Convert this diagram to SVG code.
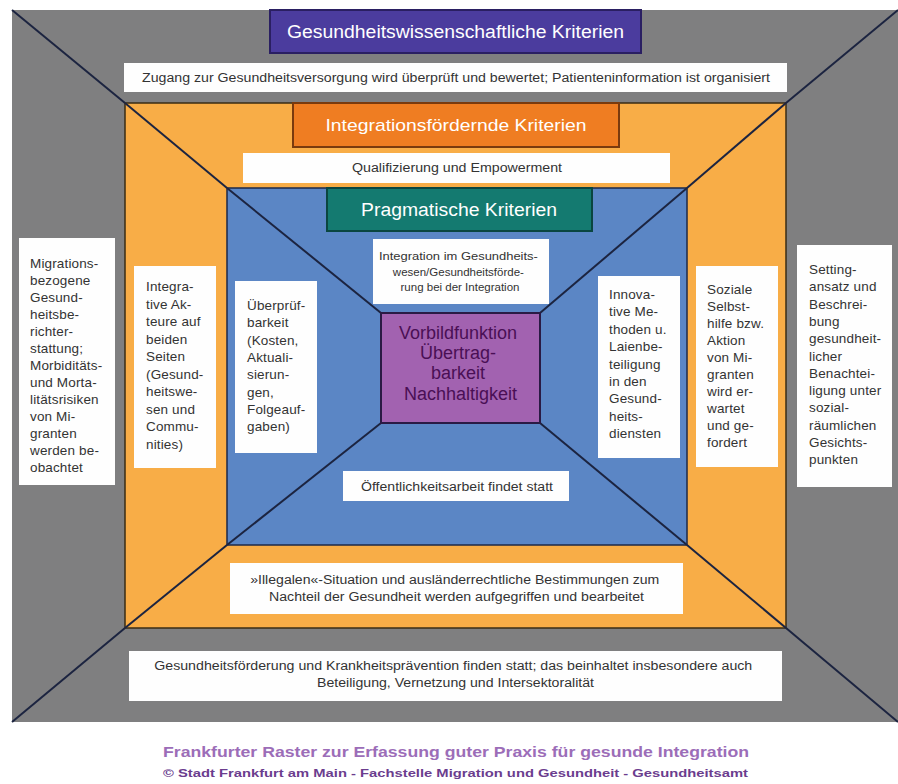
<svg xmlns="http://www.w3.org/2000/svg" width="898" height="784" viewBox="0 0 898 784">
<style>
.t{font-family:"Liberation Sans",Arial,sans-serif;fill:#333}
.side{font-size:13.5px;letter-spacing:0.15px}
.wb{fill:#fefefe}
.hd{font-family:"Liberation Sans",Arial,sans-serif;fill:#fff;text-anchor:middle}
.ln{stroke:#1c2440;stroke-width:2;fill:none}
.c{text-anchor:middle}
</style>
<rect width="898" height="784" fill="#fff"/>
<g id="ring-gray">
<rect x="12" y="10" width="886" height="712" fill="#7f7f80"/>
</g>
<g id="ring-orange">
<rect x="125" y="103" width="661" height="525" fill="#f8ad47" stroke="#3a2c14" stroke-width="1.5"/>
</g>
<g id="ring-blue">
<rect x="227" y="188" width="460" height="357" fill="#5b86c5" stroke="#1c2848" stroke-width="1.5"/>
</g>
<g id="connectors">
<line class="ln" x1="12" y1="10" x2="125" y2="103"/>
<line class="ln" x1="898" y1="10" x2="786" y2="103"/>
<line class="ln" x1="12" y1="722" x2="125" y2="628"/>
<line class="ln" x1="898" y1="722" x2="786" y2="628"/>
<line class="ln" x1="125" y1="103" x2="227" y2="188"/>
<line class="ln" x1="786" y1="103" x2="687" y2="188"/>
<line class="ln" x1="125" y1="628" x2="227" y2="545"/>
<line class="ln" x1="786" y1="628" x2="687" y2="545"/>
<line class="ln" x1="227" y1="188" x2="381" y2="313"/>
<line class="ln" x1="687" y1="188" x2="540" y2="313"/>
<line class="ln" x1="227" y1="545" x2="381" y2="423"/>
<line class="ln" x1="687" y1="545" x2="540" y2="423"/>
</g>
<g id="title-gesundheitswiss">
<rect x="270" y="10" width="371" height="43" fill="#4b3c9e" stroke="#2a1f62" stroke-width="2"/>
<text class="hd" x="455.5" y="38" font-size="18" textLength="337" lengthAdjust="spacingAndGlyphs">Gesundheitswissenschaftliche Kriterien</text>
</g>
<g id="box-zugang">
<rect class="wb" x="124" y="63" width="663" height="29"/>
<text class="t c" x="456" y="82" font-size="12.5" textLength="628" lengthAdjust="spacingAndGlyphs">Zugang zur Gesundheitsversorgung wird überprüft und bewertet; Patienteninformation ist organisiert</text>
</g>
<g id="title-integration">
<rect x="293" y="103" width="326" height="44" fill="#ef7d22" stroke="#7a3a0e" stroke-width="2"/>
<text class="hd" x="456" y="131" font-size="17" textLength="261" lengthAdjust="spacingAndGlyphs">Integrationsfördernde Kriterien</text>
</g>
<g id="box-qualifizierung">
<rect class="wb" x="243" y="153" width="427" height="30"/>
<text class="t c" x="457" y="172" font-size="12" textLength="210" lengthAdjust="spacingAndGlyphs">Qualifizierung und Empowerment</text>
</g>
<g id="title-pragmatisch">
<rect x="327" y="188" width="265" height="43" fill="#147a70" stroke="#0a4640" stroke-width="2"/>
<text class="hd" x="459" y="216" font-size="18" textLength="196" lengthAdjust="spacingAndGlyphs">Pragmatische Kriterien</text>
</g>
<g id="box-integration-gw">
<rect class="wb" x="373" y="239" width="176" height="65"/>
<text class="t c" font-size="11.5">
<tspan x="460" y="260" textLength="159" lengthAdjust="spacingAndGlyphs">Integration im Gesundheits-</tspan>
<tspan x="460" y="276">wesen/Gesundheitsförde-</tspan>
<tspan x="460" y="291">rung bei der Integration</tspan>
</text>
</g>
<g id="center">
<rect x="381" y="313" width="159" height="110" fill="#a262b0" stroke="#2a1a44" stroke-width="2"/>
<text class="c" font-family="'Liberation Sans',Arial,sans-serif" font-size="18" fill="#4a0f55">
<tspan x="460.5" y="339">Vorbildfunktion</tspan>
<tspan x="460.5" y="359">Übertrag-</tspan>
<tspan x="460.5" y="379">barkeit</tspan>
<tspan x="460.5" y="400">Nachhaltigkeit</tspan>
</text>
</g>
<g id="box-oeffentlichkeit">
<rect class="wb" x="343" y="471" width="226" height="30"/>
<text class="t c" x="457" y="491" font-size="12" textLength="192" lengthAdjust="spacingAndGlyphs">Öffentlichkeitsarbeit findet statt</text>
</g>
<g id="box-migration-berichterstattung">
<rect class="wb" x="19" y="238" width="96" height="247"/>
<text class="t side">
<tspan x="30" y="268">Migrations-</tspan>
<tspan x="30" y="285">bezogene</tspan>
<tspan x="30" y="302">Gesund-</tspan>
<tspan x="30" y="319">heitsbe-</tspan>
<tspan x="30" y="336">richter-</tspan>
<tspan x="30" y="353">stattung;</tspan>
<tspan x="30" y="370">Morbiditäts-</tspan>
<tspan x="30" y="387">und Morta-</tspan>
<tspan x="30" y="404">litätsrisiken</tspan>
<tspan x="30" y="421">von Mi-</tspan>
<tspan x="30" y="438">granten</tspan>
<tspan x="30" y="455">werden be-</tspan>
<tspan x="30" y="472">obachtet</tspan>
</text>
</g>
<g id="box-integrative-akteure">
<rect class="wb" x="134" y="266" width="82" height="202"/>
<text class="t side">
<tspan x="146" y="291">Integra-</tspan>
<tspan x="146" y="308.5">tive Ak-</tspan>
<tspan x="146" y="326">teure auf</tspan>
<tspan x="146" y="343.5">beiden</tspan>
<tspan x="146" y="361">Seiten</tspan>
<tspan x="146" y="378.5">(Gesund-</tspan>
<tspan x="146" y="396">heitswe-</tspan>
<tspan x="146" y="413.5">sen und</tspan>
<tspan x="146" y="431">Commu-</tspan>
<tspan x="146" y="448.5">nities)</tspan>
</text>
</g>
<g id="box-ueberpruefbarkeit">
<rect class="wb" x="235" y="281" width="82" height="172"/>
<text class="t side">
<tspan x="247" y="310">Überprüf-</tspan>
<tspan x="247" y="327.3">barkeit</tspan>
<tspan x="247" y="344.6">(Kosten,</tspan>
<tspan x="247" y="361.9">Aktuali-</tspan>
<tspan x="247" y="379.2">sierun-</tspan>
<tspan x="247" y="396.5">gen,</tspan>
<tspan x="247" y="413.8">Folgeauf-</tspan>
<tspan x="247" y="431.1">gaben)</tspan>
</text>
</g>
<g id="box-innovative-methoden">
<rect class="wb" x="598" y="276" width="82" height="182"/>
<text class="t side">
<tspan x="609" y="299">Innova-</tspan>
<tspan x="609" y="316.4">tive Me-</tspan>
<tspan x="609" y="333.8">thoden u.</tspan>
<tspan x="609" y="351.2">Laienbe-</tspan>
<tspan x="609" y="368.6">teiligung</tspan>
<tspan x="609" y="386">in den</tspan>
<tspan x="609" y="403.4">Gesund-</tspan>
<tspan x="609" y="420.8">heits-</tspan>
<tspan x="609" y="438.2">diensten</tspan>
</text>
</g>
<g id="box-soziale-selbsthilfe">
<rect class="wb" x="696" y="266" width="82" height="201"/>
<text class="t side">
<tspan x="707" y="294">Soziale</tspan>
<tspan x="707" y="311">Selbst-</tspan>
<tspan x="707" y="328">hilfe bzw.</tspan>
<tspan x="707" y="345">Aktion</tspan>
<tspan x="707" y="362">von Mi-</tspan>
<tspan x="707" y="379">granten</tspan>
<tspan x="707" y="396">wird er-</tspan>
<tspan x="707" y="413">wartet</tspan>
<tspan x="707" y="430">und ge-</tspan>
<tspan x="707" y="447">fordert</tspan>
</text>
</g>
<g id="box-settingansatz">
<rect class="wb" x="797" y="245" width="95" height="242"/>
<text class="t side">
<tspan x="809" y="274">Setting-</tspan>
<tspan x="809" y="291.3">ansatz und</tspan>
<tspan x="809" y="308.6">Beschrei-</tspan>
<tspan x="809" y="325.9">bung</tspan>
<tspan x="809" y="343.2">gesundheit-</tspan>
<tspan x="809" y="360.5">licher</tspan>
<tspan x="809" y="377.8">Benachtei-</tspan>
<tspan x="809" y="395.1">ligung unter</tspan>
<tspan x="809" y="412.4">sozial-</tspan>
<tspan x="809" y="429.7">räumlichen</tspan>
<tspan x="809" y="447">Gesichts-</tspan>
<tspan x="809" y="464.3">punkten</tspan>
</text>
</g>
<g id="box-illegalen">
<rect class="wb" x="230" y="563" width="453" height="51"/>
<text class="t c" font-size="12.5">
<tspan x="456.5" y="584" textLength="409" lengthAdjust="spacingAndGlyphs">»Illegalen«-Situation und ausländerrechtliche Bestimmungen zum</tspan>
<tspan x="456.5" y="601" textLength="375" lengthAdjust="spacingAndGlyphs">Nachteil der Gesundheit werden aufgegriffen und bearbeitet</tspan>
</text>
</g>
<g id="box-gesundheitsfoerderung">
<rect class="wb" x="129" y="651" width="653" height="50"/>
<text class="t c" font-size="12.5">
<tspan x="455" y="670" textLength="598" lengthAdjust="spacingAndGlyphs">Gesundheitsförderung und Krankheitsprävention finden statt; das beinhaltet insbesondere auch</tspan>
<tspan x="455.5" y="687" textLength="277" lengthAdjust="spacingAndGlyphs">Beteiligung, Vernetzung und Intersektoralität</tspan>
</text>
</g>
<g id="footer">
<text class="c" font-family="'Liberation Sans',Arial,sans-serif" font-weight="bold" font-size="15" fill="#9c6db8" x="456" y="757" textLength="586" lengthAdjust="spacingAndGlyphs">Frankfurter Raster zur Erfassung guter Praxis für gesunde Integration</text>
<text class="c" font-family="'Liberation Sans',Arial,sans-serif" font-weight="bold" font-size="11.5" fill="#6b3d8e" x="455.5" y="777" textLength="585" lengthAdjust="spacingAndGlyphs">© Stadt Frankfurt am Main - Fachstelle Migration und Gesundheit - Gesundheitsamt</text>
</g>
</svg>
